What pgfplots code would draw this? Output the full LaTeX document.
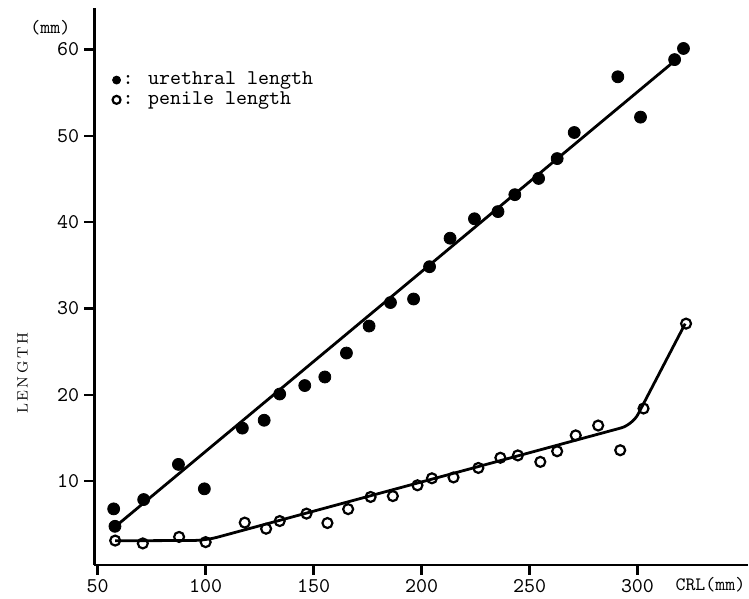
\documentclass[border=0pt]{standalone}
\usepackage{fontspec}
\usepackage{pgfplots}
\pgfplotsset{compat=1.18}
\newcommand{\tw}{\ttfamily\addfontfeatures{FakeBold=0.8}}
\begin{document}
\begin{tikzpicture}
\begin{axis}[
  scale only axis,
  width=327.6pt, height=279.3pt,
  xmin=48.4, xmax=351, ymin=0.3, ymax=64.8,
  axis lines=left,
  axis line style={-, line width=1.4pt},
  xtick={50,100,150,200,250,300},
  ytick={10,20,30,40,50,60},
  tick align=outside,
  major tick length=5pt,
  tick style={line width=1.2pt, black},
  /pgf/number format/assume math mode=true,
  tick label style={font=\tw\fontsize{10.5}{12}\selectfont},
  yticklabel style={xshift=1pt},
  xticklabel style={yshift=1.5pt},
  clip=false,
  legend cell align=left,
  legend image code/.code={\draw[#1, mark size=2pt] plot coordinates {(0.1cm,0cm)};},
  legend style={draw=none, fill=none, inner sep=0pt,
    at={(axis description cs:0,1)}, anchor=north west,
    xshift=9pt, yshift=-31pt,
    font=\tw\fontsize{10.5}{10}\selectfont,
    nodes={inner sep=1pt},
    /tikz/every even column/.append style={column sep=0pt}},
]
% fitted lines
\addplot[black, line width=1.4pt, forget plot] coordinates {(59.8,5.09) (319.3,59.1)};
\addplot[black, line width=1.4pt, rounded corners=6pt, forget plot] coordinates {
 (58.1,3.1) (100.0,3.15) (297.7,16.53) (322.1,28.25)};
% urethral length
\addplot[only marks, mark=*, mark size=3pt, black] coordinates {
 (57.4,6.80) (58.0,4.78) (71.3,7.88) (87.4,11.95) (99.4,9.12)
 (117.0,16.15) (127.1,17.06) (134.3,20.10) (145.9,21.08) (155.2,22.07)
 (165.2,24.84) (175.7,27.97) (185.6,30.69) (196.3,31.10) (203.7,34.84)
 (213.2,38.14) (224.5,40.39) (235.4,41.22) (243.2,43.18) (254.2,45.06)
 (262.8,47.36) (270.7,50.38) (290.9,56.83) (301.4,52.16) (317.2,58.82)
 (321.3,60.11)};
\addlegendentry{: urethral length}
% penile length
\addplot[only marks, mark=o, mark size=2.5pt, black, mark options={line width=1.1pt}] coordinates {
 (58.1,3.13) (70.9,2.80) (87.7,3.55) (100.0,2.95) (118.1,5.21)
 (128.0,4.50) (134.3,5.39) (146.7,6.25) (156.4,5.16) (166.0,6.77)
 (176.4,8.18) (186.7,8.28) (198.1,9.53) (204.8,10.34) (214.8,10.44)
 (226.3,11.54) (236.5,12.72) (244.6,12.99) (255.0,12.24) (262.8,13.47)
 (271.4,15.31) (281.8,16.45) (292.0,13.59) (302.8,18.42) (322.5,28.25)};
\addlegendentry{: penile length}
\node[font=\tw\fontsize{9.5}{10}\selectfont] at ([xshift=-22pt]axis cs:48.4,62.5) {(mm)};
\node[font=\rmfamily\fontsize{7.5}{8}\selectfont, rotate=90] at ([xshift=-36pt]axis cs:48.4,22.5) {L\,E\,N\,G\,T\,H};
\node[font=\tw\fontsize{9.5}{12}\selectfont, anchor=east, inner sep=0pt] at ([xshift=-1pt,yshift=-10pt]current axis.south east) {CRL(mm)};
\end{axis}
\path ([xshift=-47.25pt,yshift=-15.5pt]current axis.south west) rectangle ([yshift=4pt]current axis.north east);
\end{tikzpicture}
\end{document}
